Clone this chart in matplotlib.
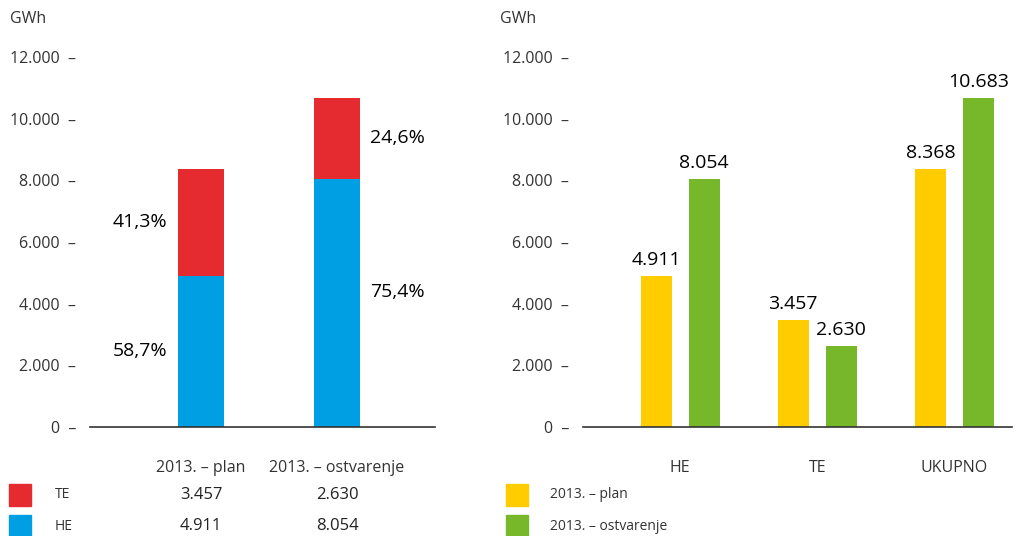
import matplotlib.pyplot as plt
from matplotlib.patches import Rectangle

plt.rcParams['font.family'] = ['Open Sans', 'DejaVu Sans']

# data
columns = ['2013. – plan', '2013. – ostvarenje']
he_vals = [4911, 8054]
te_vals = [3457, 2630]
he_pct = ['58,7%', '75,4%']
te_pct = ['41,3%', '24,6%']

groups = ['HE', 'TE', 'UKUPNO']
plan_vals = [4911, 3457, 8368]
real_vals = [8054, 2630, 10683]
plan_lbl = ['4.911', '3.457', '8.368']
real_lbl = ['8.054', '2.630', '10.683']

yticks = [0, 2000, 4000, 6000, 8000, 10000, 12000]
ytick_lbl = ['0', '2.000', '4.000', '6.000', '8.000', '10.000', '12.000']

RED = '#e52a30'
BLUE = '#009fe3'
YELLOW = '#ffcc00'
GREEN = '#76b82a'
GRAY = '#333333'

W, H = 1019, 536
fig = plt.figure(figsize=(W / 100, H / 100), dpi=100)


def px(x0, y0, x1, y1):
    # pixel box -> figure fraction [left, bottom, width, height]
    return [x0 / W, 1 - y1 / H, (x1 - x0) / W, (y1 - y0) / H]


def style_axis(ax):
    for s in ['top', 'right', 'left']:
        ax.spines[s].set_visible(False)
    ax.spines['bottom'].set_color(GRAY)
    ax.spines['bottom'].set_linewidth(1.2)
    ax.set_ylim(0, 12000)
    ax.set_yticks(yticks)
    ax.set_yticklabels([t + '  –' for t in ytick_lbl], fontsize=11.5, color=GRAY)
    ax.tick_params(axis='y', length=0, pad=10)
    ax.tick_params(axis='x', length=0, pad=24, labelsize=11.5, labelcolor=GRAY)
    ax.set_facecolor('none')


# left: stacked bars
ax1 = fig.add_axes(px(90, 57, 435, 427))
style_axis(ax1)
x = [0, 1]
ax1.bar(x, he_vals, width=0.34, color=BLUE)
ax1.bar(x, te_vals, width=0.34, bottom=he_vals, color=RED)
ax1.set_xlim(-0.816, 1.72)
ax1.set_xticks(x)
ax1.set_xticklabels(columns)

ax1.text(x[0] - 0.45, he_vals[0] / 2, he_pct[0], fontsize=14, ha='center', va='center')
ax1.text(x[0] - 0.45, he_vals[0] + te_vals[0] / 2, te_pct[0], fontsize=14, ha='center', va='center')
ax1.text(x[1] + 0.24, he_vals[1] / 2 + 350, he_pct[1], fontsize=14, ha='left', va='center')
ax1.text(x[1] + 0.24, he_vals[1] + te_vals[1] / 2, te_pct[1], fontsize=14, ha='left', va='center')

fig.text(10 / W, 1 - 19 / H, 'GWh', fontsize=11.5, color=GRAY, va='center')

# table under left chart
rows = [('TE', RED, te_vals, 495), ('HE', BLUE, he_vals, 526)]
for name, col, vals, ypix in rows:
    fig.patches.append(Rectangle((9 / W, 1 - (ypix + 11) / H), 22 / W, 22 / H,
                                 transform=fig.transFigure, color=col))
    fig.text(55 / W, 1 - ypix / H, name, fontsize=10, color=GRAY, va='center')
    for xi, v in zip(x, vals):
        xf = ax1.transData.transform((xi, 0))[0] / W
        fig.text(xf, 1 - ypix / H, f'{v:,}'.replace(',', '.'), fontsize=12,
                 color='#222222', ha='center', va='center')

# right: grouped bars
ax2 = fig.add_axes(px(583, 57, 1012, 427))
style_axis(ax2)
gx = [0, 1, 2]
off = 0.175
bw = 0.226
b1 = ax2.bar([g - off for g in gx], plan_vals, width=bw, color=YELLOW)
b2 = ax2.bar([g + off for g in gx], real_vals, width=bw, color=GREEN)
ax2.bar_label(b1, labels=plan_lbl, padding=5, fontsize=14)
ax2.bar_label(b2, labels=real_lbl, padding=5, fontsize=14)
ax2.set_xlim(-0.708, 2.42)
ax2.set_xticks(gx)
ax2.set_xticklabels(groups)

fig.text(500 / W, 1 - 19 / H, 'GWh', fontsize=11.5, color=GRAY, va='center')

legend = [('2013. – plan', YELLOW, 495), ('2013. – ostvarenje', GREEN, 526)]
for name, col, ypix in legend:
    fig.patches.append(Rectangle((506 / W, 1 - (ypix + 11) / H), 22 / W, 22 / H,
                                 transform=fig.transFigure, color=col))
    fig.text(550 / W, 1 - ypix / H, name, fontsize=10, color=GRAY, va='center')

plt.savefig('out.png', dpi=100)
